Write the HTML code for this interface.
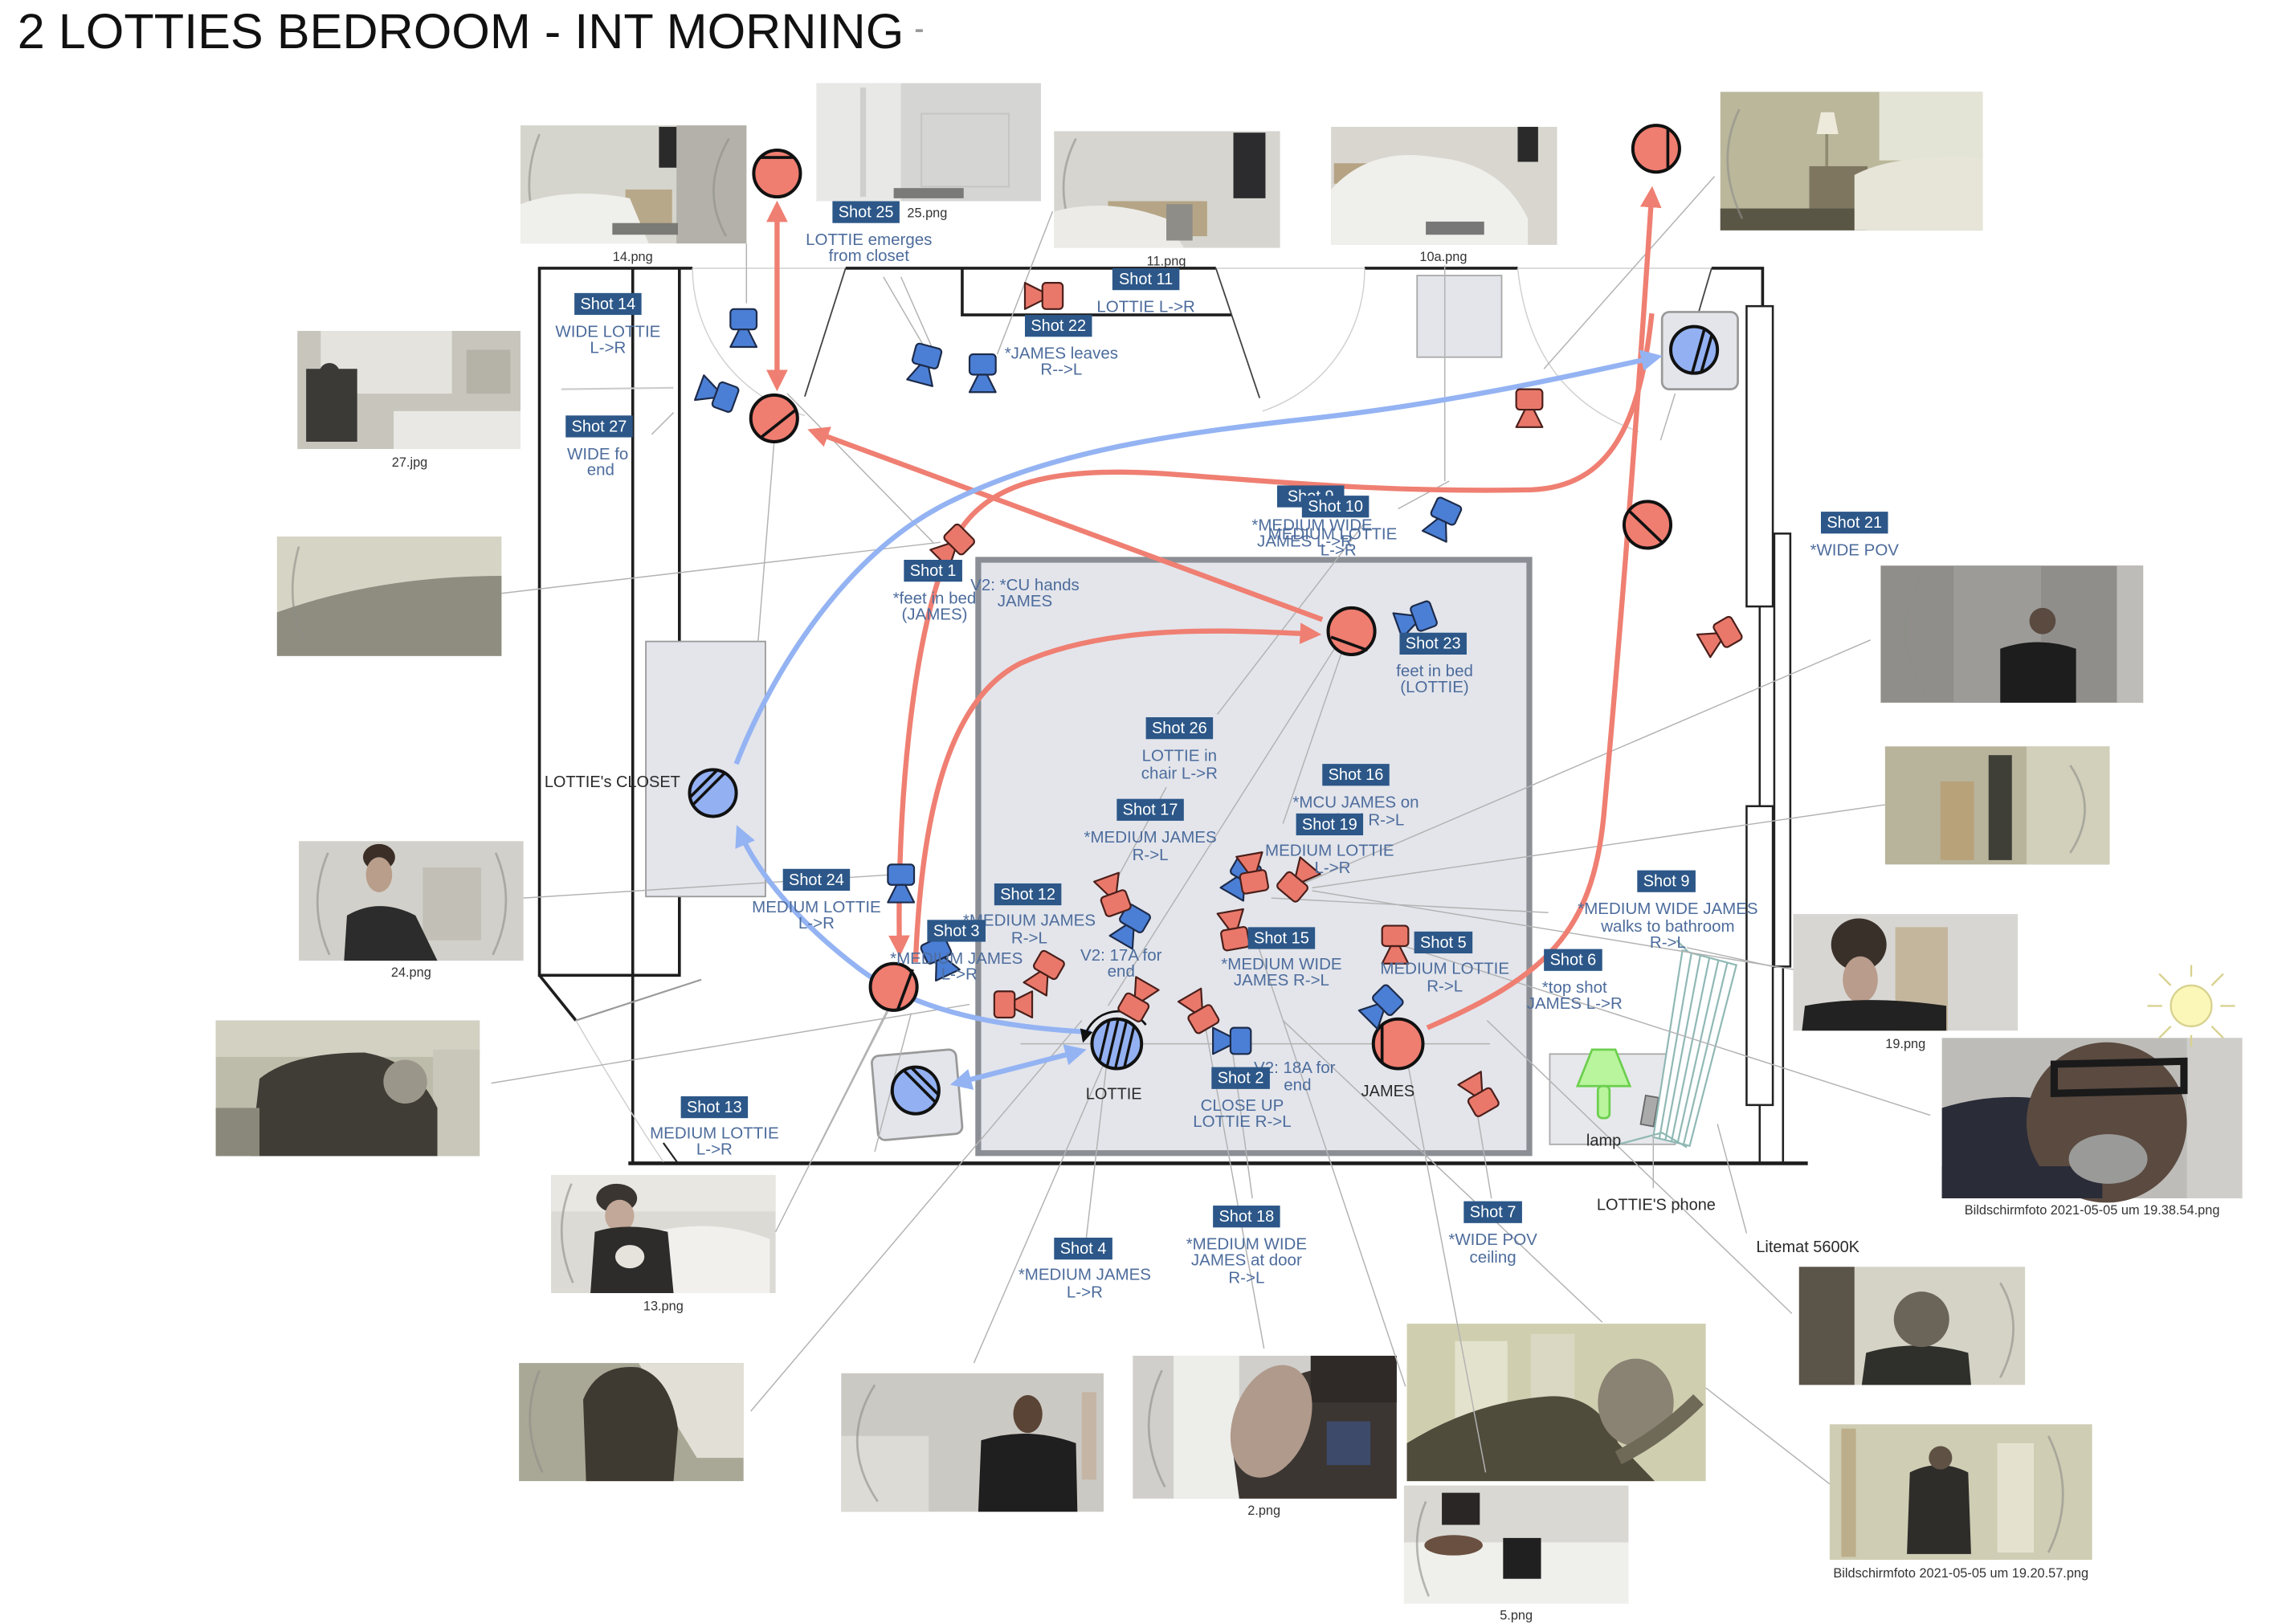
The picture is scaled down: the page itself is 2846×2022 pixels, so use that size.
<!DOCTYPE html>
<html><head><meta charset="utf-8"><style>
html,body{margin:0;padding:0;background:#fff;}
svg{display:block;}
text{font-family:"Liberation Sans",Arial,sans-serif;}
.sb{fill:#2c5788;}
.st{fill:#fff;font-size:11px;text-anchor:middle;}
.d{fill:#4d6c9c;font-size:11.3px;text-anchor:middle;}
.k{fill:#2a2a2a;font-size:11px;text-anchor:middle;}
.cap{fill:#333;font-size:9px;text-anchor:middle;}
.w{stroke:#1e1e1e;stroke-width:2;fill:none;}
.g{stroke:#b2b2b2;stroke-width:0.8;fill:none;}
.lg{stroke:#d0d0d0;stroke-width:0.8;fill:none;}
.ch{stroke:#111;stroke-width:2;}
.arc{fill:none;stroke:#8e8e88;stroke-width:1.5;opacity:0.6;}
</style></head><body>
<svg width="2846" height="2022" viewBox="0 0 1568 1114" xmlns="http://www.w3.org/2000/svg">
<defs>
<marker id="ar" viewBox="0 0 10 10" refX="7" refY="5" markerWidth="4.2" markerHeight="4.2" orient="auto-start-reverse"><path d="M0,0 L10,5 L0,10 z" fill="#ef7f72"/></marker>
<marker id="ab" viewBox="0 0 10 10" refX="7" refY="5" markerWidth="4.2" markerHeight="4.2" orient="auto-start-reverse"><path d="M0,0 L10,5 L0,10 z" fill="#94b3f3"/></marker>
<marker id="ak" viewBox="0 0 10 10" refX="5" refY="5" markerWidth="6" markerHeight="6" orient="auto"><path d="M0,0 L10,5 L0,10 z" fill="#111"/></marker>
<g id="cb"><rect x="-9" y="-14" width="18" height="14" rx="2.5" fill="#4b7fd6" stroke="#1d2b4a" stroke-width="1.2"/><path d="M-3,0 L3,0 L9,12 L-9,12 Z" fill="#4b7fd6" stroke="#1d2b4a" stroke-width="1.2" stroke-linejoin="round"/></g>
<g id="cr"><rect x="-9" y="-14" width="18" height="14" rx="2.5" fill="#e9786b" stroke="#4a1f1a" stroke-width="1.2"/><path d="M-3,0 L3,0 L9,12 L-9,12 Z" fill="#e9786b" stroke="#4a1f1a" stroke-width="1.2" stroke-linejoin="round"/></g>
<clipPath id="lc"><circle cx="766" cy="716" r="17"/></clipPath>
</defs>

<!-- Title -->
<text x="12" y="33" font-size="33.5" fill="#111" textLength="608" lengthAdjust="spacingAndGlyphs">2 LOTTIES BEDROOM - INT MORNING</text>
<rect x="628" y="20" width="5" height="2" fill="#999"/>

<!-- PHOTOS -->
<!-- 14.png -->
<g>
<rect x="357" y="86" width="155" height="81" fill="#d6d5cd"/>
<rect x="464" y="86" width="48" height="81" fill="#b3b1aa"/>
<path d="M370,92 Q355,130 372,165" class="arc"/>
<path d="M500,95 Q480,130 498,162" class="arc"/>
<rect x="429" y="130" width="32" height="30" fill="#b8a88a"/>
<path d="M357,167 L357,140 Q390,128 432,136 L445,167 Z" fill="#efefeb"/>
<rect x="452" y="87" width="12" height="28" fill="#2a2a2a"/>
<rect x="420" y="153" width="45" height="8" fill="#7a7a76"/>
</g>
<text x="434" y="179" class="cap">14.png</text>

<!-- 25.png -->
<g>
<rect x="560" y="57" width="154" height="81" fill="#d5d5d3"/>
<rect x="560" y="57" width="58" height="81" fill="#e8e8e6"/>
<rect x="590" y="60" width="4" height="75" fill="#cfcfcd"/>
<rect x="632" y="78" width="60" height="50" fill="none" stroke="#c6c6c4" stroke-width="1.2"/>
<rect x="613" y="129" width="48" height="7" fill="#7a7a78"/>
</g>

<!-- 11.png -->
<g>
<rect x="723" y="90" width="155" height="80" fill="#d6d5cf"/>
<path d="M738,95 Q720,130 740,168" class="arc"/>
<rect x="760" y="138" width="68" height="24" fill="#b5a586"/>
<path d="M723,170 L723,145 Q760,135 800,150 L812,170 Z" fill="#ecebe7"/>
<rect x="846" y="91" width="22" height="45" fill="#2c2c2e"/>
<rect x="800" y="140" width="18" height="25" fill="#8e8d88"/>
</g>
<text x="800" y="182" class="cap">11.png</text>

<!-- 10a.png -->
<g>
<rect x="913" y="87" width="155" height="81" fill="#d8d6cf"/>
<rect x="915" y="112" width="60" height="14" fill="#b5a383"/>
<path d="M913,168 L913,130 Q940,100 985,108 Q1030,112 1048,150 L1048,168 Z" fill="#efefeb"/>
<rect x="1041" y="87" width="14" height="24" fill="#2a2a2a"/>
<rect x="978" y="152" width="40" height="9" fill="#777"/>
</g>
<text x="990" y="179" class="cap">10a.png</text>

<!-- top right -->
<g>
<rect x="1180" y="63" width="180" height="95" fill="#bab79b"/>
<rect x="1289" y="63" width="71" height="47" fill="#e4e4d6"/>
<path d="M1249,77 L1258,77 L1261,92 L1246,92 Z" fill="#eeeadb"/>
<rect x="1252" y="92" width="2" height="22" fill="#8f8a70"/>
<rect x="1241" y="114" width="40" height="33" fill="#7f7660"/>
<rect x="1180" y="143" width="100" height="15" fill="#5a5646"/>
<path d="M1272,158 L1272,120 Q1300,105 1360,108 L1360,158 Z" fill="#e6e5d8"/>
<path d="M1193,75 Q1176,110 1195,150" class="arc"/>
</g>

<!-- 27.jpg -->
<g>
<rect x="204" y="227" width="153" height="81" fill="#c7c5bc"/>
<rect x="220" y="227" width="90" height="43" fill="#e4e3dd"/>
<rect x="210" y="253" width="35" height="50" fill="#3b3a37"/>
<circle cx="226" cy="256" r="7" fill="#3b3a37"/>
<rect x="270" y="282" width="87" height="26" fill="#e9e8e4"/>
<rect x="320" y="240" width="30" height="30" fill="#b5b2a8"/>
</g>
<text x="281" y="320" class="cap">27.jpg</text>

<!-- left photo 2 -->
<g>
<rect x="190" y="368" width="154" height="82" fill="#d6d4c4"/>
<path d="M190,450 L190,420 Q260,395 344,395 L344,450 Z" fill="#8e8d80"/>
<path d="M205,375 Q195,410 208,440" class="arc"/>
</g>

<!-- 24.png -->
<g>
<rect x="205" y="577" width="154" height="82" fill="#d2d0ca"/>
<path d="M225,585 Q210,620 226,655" class="arc"/>
<path d="M340,585 Q355,620 338,655" class="arc"/>
<rect x="290" y="595" width="40" height="50" fill="#c2bfb6"/>
<path d="M236,659 L238,628 Q260,615 285,628 L300,659 Z" fill="#2c2c2c"/>
<ellipse cx="260" cy="588" rx="11" ry="9" fill="#3a2e26"/>
<ellipse cx="260" cy="600" rx="9" ry="12" fill="#b89e8b"/>
</g>
<text x="282" y="670" class="cap">24.png</text>

<!-- left photo 4 -->
<g>
<rect x="148" y="700" width="181" height="93" fill="#bdbcab"/>
<rect x="148" y="700" width="181" height="25" fill="#d2d1c2"/>
<rect x="297" y="720" width="32" height="73" fill="#c8c7ba"/>
<path d="M172,793 L178,740 Q200,722 250,722 Q285,728 300,760 L300,793 Z" fill="#3f3d35"/>
<circle cx="278" cy="742" r="15" fill="#9a968a"/>
<rect x="148" y="760" width="30" height="33" fill="#8a887a"/>
</g>

<!-- 13.png -->
<g>
<rect x="378" y="806" width="154" height="81" fill="#dcdad5"/>
<rect x="378" y="806" width="154" height="25" fill="#e8e7e2"/>
<path d="M445,887 L448,845 Q490,835 528,850 L528,887 Z" fill="#f1f0ec"/>
<ellipse cx="423" cy="822" rx="14" ry="10" fill="#3a3530"/>
<ellipse cx="425" cy="834" rx="10" ry="11" fill="#c2a898"/>
<path d="M405,887 L408,845 Q430,838 458,845 L462,887 Z" fill="#2e2c2a"/>
<ellipse cx="432" cy="862" rx="10" ry="8" fill="#e6e2dc"/>
<path d="M392,812 Q378,845 393,880" class="arc"/>
</g>
<text x="455" y="899" class="cap">13.png</text>

<!-- bottom-left -->
<g>
<rect x="356" y="935" width="154" height="81" fill="#a9a796"/>
<path d="M438,935 L510,935 L510,1000 L478,1000 Z" fill="#e2e0d6"/>
<path d="M402,1016 L400,960 Q410,935 438,938 Q460,945 465,980 L462,1016 Z" fill="#3e3a31"/>
<path d="M370,940 Q356,975 372,1010" class="arc"/>
</g>

<!-- bottom photo -->
<g>
<rect x="577" y="942" width="180" height="95" fill="#cbc9c3"/>
<rect x="577" y="985" width="60" height="52" fill="#dcdbd6"/>
<path d="M600,950 Q575,990 602,1030" class="arc"/>
<rect x="742" y="955" width="10" height="60" fill="#c4b5a4"/>
<path d="M671,1037 L673,988 Q705,978 738,990 L739,1037 Z" fill="#1f1f1f"/>
<ellipse cx="705" cy="970" rx="10" ry="13" fill="#5a4436"/>
</g>

<!-- 2.png -->
<g>
<rect x="777" y="930" width="180" height="98" fill="#d0cfcb"/>
<rect x="805" y="930" width="45" height="98" fill="#ededea"/>
<path d="M797,940 Q778,980 799,1020" class="arc"/>
<path d="M850,1028 L845,990 Q860,950 900,940 L958,935 L958,1028 Z" fill="#3b3632"/>
<rect x="899" y="930" width="59" height="32" fill="#2f2a27"/>
<ellipse cx="872" cy="975" rx="26" ry="40" fill="#b09a8c" transform="rotate(20 872 975)"/>
<rect x="910" y="975" width="30" height="30" fill="#3e4a6a"/>
</g>
<text x="867" y="1039" class="cap">2.png</text>

<!-- big photo -->
<g>
<rect x="965" y="908" width="205" height="108" fill="#cfcfb0"/>
<rect x="998" y="920" width="36" height="75" fill="#e3e2cc"/>
<rect x="1050" y="915" width="30" height="50" fill="#dad8c2"/>
<path d="M965,1016 L965,990 Q1010,962 1060,958 Q1095,955 1110,990 L1135,1016 Z" fill="#4f4c3c"/>
<ellipse cx="1122" cy="962" rx="26" ry="30" fill="#8a8272"/>
<path d="M1110,1000 Q1140,985 1165,960" stroke="#6f6a58" stroke-width="10" fill="none"/>
</g>

<!-- 5.png -->
<g>
<rect x="963" y="1019" width="154" height="81" fill="#d9d8d3"/>
<rect x="963" y="1058" width="154" height="42" fill="#efefec"/>
<rect x="989" y="1024" width="26" height="22" fill="#2a2626"/>
<ellipse cx="997" cy="1060" rx="20" ry="7" fill="#6a5040"/>
<rect x="1031" y="1055" width="26" height="28" fill="#202020"/>
<path d="M978,1030 Q965,1060 980,1095" class="arc"/>
</g>
<text x="1040" y="1111" class="cap">5.png</text>

<!-- right-bottom -->
<g>
<rect x="1234" y="869" width="155" height="81" fill="#d5d3c5"/>
<rect x="1234" y="869" width="38" height="81" fill="#5a5548"/>
<path d="M1277,950 L1280,928 Q1315,918 1350,928 L1352,950 Z" fill="#2f2f2c"/>
<ellipse cx="1318" cy="905" rx="19" ry="19" fill="#6b6458"/>
<path d="M1372,880 Q1390,910 1372,945" class="arc"/>
</g>

<!-- Bildschirmfoto 19.20.57 -->
<g>
<rect x="1255" y="977" width="180" height="93" fill="#cfcdb3"/>
<rect x="1263" y="980" width="10" height="88" fill="#bcae8a"/>
<rect x="1370" y="990" width="25" height="75" fill="#e4e2cf"/>
<path d="M1308,1066 L1310,1010 Q1330,1000 1350,1010 L1352,1066 Z" fill="#2e2d2a"/>
<circle cx="1331" cy="1000" r="8" fill="#5f5245"/>
<path d="M1405,985 Q1425,1025 1405,1065" class="arc"/>
</g>
<text x="1345" y="1082" class="cap" font-size="8.5">Bildschirmfoto 2021-05-05 um 19.20.57.png</text>

<!-- Shot 21 photo -->
<g>
<rect x="1290" y="388" width="180" height="94" fill="#8f8e8a"/>
<rect x="1340" y="388" width="60" height="94" fill="#9c9b97"/>
<rect x="1452" y="388" width="18" height="94" fill="#bdbcb8"/>
<path d="M1318,395 Q1295,435 1320,475" class="arc"/>
<path d="M1372,482 L1372,445 Q1398,436 1424,445 L1424,482 Z" fill="#1d1d1d"/>
<circle cx="1401" cy="426" r="9" fill="#5a4a40"/>
</g>

<!-- photo 2 right -->
<g>
<rect x="1293" y="512" width="154" height="81" fill="#b8b49c"/>
<rect x="1390" y="512" width="57" height="81" fill="#d2cfba"/>
<rect x="1331" y="536" width="23" height="54" fill="#b8a27a"/>
<rect x="1364" y="518" width="16" height="72" fill="#3f3f37"/>
<path d="M1420,525 Q1440,555 1420,585" class="arc"/>
</g>

<!-- 19.png -->
<g>
<rect x="1230" y="627" width="154" height="80" fill="#d8d6d2"/>
<rect x="1300" y="636" width="36" height="71" fill="#c3b69c"/>
<ellipse cx="1275" cy="648" rx="19" ry="18" fill="#3a302a"/>
<ellipse cx="1276" cy="672" rx="12" ry="16" fill="#b99c8c"/>
<path d="M1236,707 L1238,690 Q1280,682 1335,690 L1335,707 Z" fill="#222"/>
</g>
<text x="1307" y="719" class="cap">19.png</text>

<!-- Bildschirmfoto 19.38.54 -->
<g>
<rect x="1332" y="712" width="206" height="110" fill="#bdbcb8"/>
<rect x="1500" y="712" width="38" height="110" fill="#cfcecb"/>
<path d="M1332,822 L1332,760 Q1380,745 1430,760 L1440,822 Z" fill="#2a2c38"/>
<ellipse cx="1445" cy="770" rx="55" ry="55" fill="#5a4a40"/>
<rect x="1332" y="800" width="110" height="22" fill="#2a2c38"/>
<path d="M1409,730 L1498,728 L1498,748 L1409,750 Z" fill="none" stroke="#1a1a1a" stroke-width="5"/>
<ellipse cx="1446" cy="795" rx="27" ry="17" fill="#9a9a98"/>
</g>
<text x="1435" y="833" class="cap" font-size="8.5">Bildschirmfoto 2021-05-05 um 19.38.54.png</text>

<!-- Sun -->
<g stroke="#d8d290" stroke-width="1.3">
<line x1="1503" y1="670" x2="1503" y2="662"/><line x1="1503" y1="710" x2="1503" y2="718"/>
<line x1="1483" y1="690" x2="1473" y2="690"/><line x1="1523" y1="690" x2="1533" y2="690"/>
<line x1="1489" y1="676" x2="1481" y2="668"/><line x1="1517" y1="676" x2="1525" y2="668"/>
<line x1="1489" y1="704" x2="1481" y2="712"/><line x1="1517" y1="704" x2="1525" y2="712"/>
<circle cx="1503" cy="690" r="14" fill="#faf7b8"/>
</g>

<!-- FLOOR PLAN -->
<line x1="475" y1="184" x2="580" y2="184" class="lg"/>
<line x1="834" y1="184" x2="936" y2="184" class="lg"/>
<line x1="1041" y1="184" x2="1174" y2="184" class="lg"/>
<path d="M369,184 L475,184 M580,184 L834,184 M936,184 L1041,184 M1174,184 L1209,184 L1209,212" class="w"/>
<path d="M660,184 L660,216 L845,216" class="w"/>
<path d="M370,184 L370,669 L466,669 L466,184 M434,184 L434,799" class="w"/>
<path d="M370,669 L395,700" class="w"/>
<line x1="395" y1="700" x2="481" y2="672" stroke="#999" stroke-width="1.2"/>
<line x1="385" y1="267" x2="462" y2="266" stroke="#ccc" stroke-width="1.2"/>
<line x1="431" y1="798" x2="1240" y2="798" stroke="#1e1e1e" stroke-width="2.5"/>
<line x1="455" y1="784" x2="465" y2="798" stroke="#222" stroke-width="1.2"/>
<line x1="580" y1="184" x2="552" y2="272" stroke="#444" stroke-width="1"/>
<path d="M475,184 A105,105 0 0 0 552,285" class="lg"/>
<line x1="834" y1="184" x2="864" y2="273" stroke="#444" stroke-width="1"/>
<path d="M936,184 A102,102 0 0 1 866,282" class="lg"/>
<line x1="1174" y1="184" x2="1164" y2="218" stroke="#444" stroke-width="1"/>
<path d="M1041,184 Q1050,270 1124,296" class="lg"/>
<path d="M395,700 Q430,760 455,797" class="lg"/>
<g fill="#fff" stroke="#222" stroke-width="1.4">
<rect x="1198" y="210" width="18" height="206"/>
<rect x="1217" y="366" width="11" height="297"/>
<rect x="1198" y="553" width="18" height="205"/>
</g>
<path d="M1207,416 L1207,553 M1207,758 L1207,798 M1223,663 L1223,798" stroke="#222" stroke-width="1.4" fill="none"/>

<!-- furniture -->
<rect x="443" y="440" width="82" height="175" fill="#e3e5eb" stroke="#9a9a9a" stroke-width="1"/>
<rect x="671" y="384" width="378" height="407" fill="#e3e5eb" stroke="#8b8f95" stroke-width="4"/>
<rect x="972" y="189" width="58" height="56" fill="#e3e5eb" stroke="#aaa" stroke-width="1"/>
<rect x="1140" y="214" width="52" height="53" rx="5" fill="#e3e5eb" stroke="#999" stroke-width="1.5"/>
<rect x="600" y="722" width="58" height="58" rx="5" fill="#e3e5eb" stroke="#999" stroke-width="1.5" transform="rotate(-5 629 751)"/>
<rect x="1063" y="723" width="86" height="62" fill="#e7e8ec" stroke="#aaa" stroke-width="1"/>
<path d="M1092,720 L1108,720 L1118,745 L1082,745 Z" fill="#b9f59d" stroke="#6ccf4f" stroke-width="1.5"/>
<rect x="1096" y="745" width="8" height="22" rx="3" fill="#b9f59d" stroke="#6ccf4f" stroke-width="1.5"/>
<rect x="1127" y="752" width="9" height="20" fill="#aaa" stroke="#666" stroke-width="1" transform="rotate(10 1131 762)"/>
<g stroke="#8fb8b4" stroke-width="1.2" fill="none">
<polygon points="1154,652 1191,662 1159,786 1134,780" fill="#fff"/>
<line x1="1160.2" y1="653.7" x2="1138.2" y2="781"/>
<line x1="1166.3" y1="655.3" x2="1142.3" y2="782"/>
<line x1="1172.5" y1="657" x2="1146.5" y2="783"/>
<line x1="1178.7" y1="658.7" x2="1150.7" y2="784"/>
<line x1="1184.8" y1="660.3" x2="1154.8" y2="785"/>
<path d="M1110,785 L1140,777 L1157,787"/>
<path d="M1150,645 L1158,653"/>
</g>

<!-- GRAY CONNECTORS -->
<g class="g">
<line x1="512" y1="167" x2="512" y2="208"/>
<line x1="606" y1="190" x2="634" y2="238"/>
<line x1="618" y1="190" x2="640" y2="240"/>
<line x1="722" y1="145" x2="684" y2="243"/>
<line x1="462" y1="283" x2="447" y2="298"/>
<line x1="344" y1="407" x2="645" y2="372"/>
<line x1="359" y1="616" x2="612" y2="600"/>
<line x1="337" y1="743" x2="665" y2="689"/>
<line x1="532" y1="845" x2="610" y2="690"/>
<line x1="515" y1="968" x2="742" y2="700"/>
<line x1="668" y1="935" x2="770" y2="700"/>
<line x1="745" y1="850" x2="760" y2="722"/>
<line x1="859" y1="822" x2="845" y2="718"/>
<line x1="867" y1="925" x2="826" y2="700"/>
<line x1="964" y1="951" x2="860" y2="640"/>
<line x1="1019" y1="1010" x2="960" y2="700"/>
<line x1="1099" y1="907" x2="880" y2="700"/>
<line x1="1023" y1="822" x2="1013" y2="762"/>
<line x1="1229" y1="901" x2="1020" y2="700"/>
<line x1="1170" y1="952" x2="1255" y2="1018"/>
<line x1="1134" y1="815" x2="1134" y2="778"/>
<line x1="1198" y1="846" x2="1178" y2="771"/>
<line x1="1283" y1="439" x2="880" y2="612"/>
<line x1="1293" y1="552" x2="900" y2="609"/>
<line x1="1230" y1="665" x2="900" y2="611"/>
<line x1="1324" y1="765" x2="960" y2="648"/>
<line x1="1062" y1="626" x2="872" y2="616"/>
<line x1="1157" y1="650" x2="1216" y2="663"/>
<line x1="1176" y1="121" x2="1059" y2="253"/>
<line x1="994" y1="330" x2="959" y2="349"/>
<line x1="991" y1="182" x2="991" y2="330"/>
<line x1="1149" y1="270" x2="1139" y2="302"/>
<line x1="928" y1="425" x2="880" y2="565"/>
<line x1="928" y1="425" x2="760" y2="690"/>
<line x1="935" y1="360" x2="835" y2="490"/>
<line x1="700" y1="716" x2="1022" y2="716"/>
<line x1="800" y1="540" x2="765" y2="605"/>
<line x1="640" y1="372" x2="540" y2="270"/>
<line x1="531" y1="303" x2="520" y2="440"/>
<line x1="610" y1="692" x2="560" y2="790"/>
<line x1="625" y1="695" x2="600" y2="790"/>
</g>

<!-- ARROWS -->
<g fill="none" stroke="#ef7f72" stroke-width="3.5">
<path d="M533,142 L533,264" marker-start="url(#ar)" marker-end="url(#ar)"/>
<path d="M907,425 L558,296" marker-end="url(#ar)"/>
<path d="M979,705 C1060,670 1092,640 1100,560 C1110,450 1122,300 1133,132" marker-end="url(#ar)"/>
<path d="M1133,215 C1125,290 1105,334 1050,336 C950,338 870,330 800,325 C720,320 670,330 650,380 C625,440 615,560 617,652" marker-end="url(#ar)"/>
<path d="M628,660 C632,560 650,480 700,455 C760,428 840,432 902,435" marker-end="url(#ar)"/>
</g>
<g fill="none" stroke="#94b3f3" stroke-width="3.5">
<path d="M505,524 C530,460 580,380 650,345 C720,310 800,298 900,287 C1000,276 1090,255 1136,245" marker-end="url(#ab)"/>
<path d="M748,708 C690,705 630,695 590,665 C550,635 520,600 507,570" marker-end="url(#ab)"/>
<path d="M656,743 L741,721" marker-start="url(#ab)" marker-end="url(#ab)"/>
</g>

<!-- ACTORS -->
<g stroke="#111" stroke-width="2.2">
<circle cx="533" cy="119" r="16" fill="#ef7d70"/>
<circle cx="531" cy="287" r="16" fill="#ef7d70"/>
<circle cx="1136" cy="102" r="16" fill="#ef7d70"/>
<circle cx="1130" cy="360" r="16" fill="#ef7d70"/>
<circle cx="927" cy="433" r="16" fill="#ef7d70"/>
<circle cx="613" cy="677" r="16" fill="#ef7d70"/>
<circle cx="959" cy="716" r="17" fill="#ef7d70"/>
<circle cx="1162" cy="240" r="16" fill="#93b1f2"/>
<circle cx="489" cy="544" r="16" fill="#93b1f2"/>
<circle cx="628" cy="748" r="16" fill="#93b1f2"/>
<circle cx="766" cy="716" r="17" fill="#93b1f2"/>
</g>
<g class="ch">
<line x1="521.4" y1="108" x2="544.6" y2="108"/>
<line x1="522" y1="300" x2="546" y2="281"/>
<line x1="1144" y1="88" x2="1144" y2="116"/>
<line x1="1117" y1="350" x2="1141" y2="373"/>
<line x1="913" y1="437" x2="938" y2="446"/>
<line x1="626" y1="665" x2="616" y2="692"/>
<line x1="948" y1="703" x2="948" y2="729"/>
<line x1="1169.1" y1="225.7" x2="1160.7" y2="255.9"/>
<line x1="1174.2" y1="229.7" x2="1167" y2="255.1"/>
<line x1="497.1" y1="530.2" x2="475.2" y2="552.1"/>
<line x1="491.9" y1="528.3" x2="473.3" y2="546.9"/>
<line x1="619.9" y1="734.2" x2="641.8" y2="756.2"/>
<line x1="625.1" y1="732.3" x2="643.7" y2="750.9"/>
</g>
<g clip-path="url(#lc)" stroke="#111" stroke-width="1.8">
<line x1="761" y1="699" x2="753" y2="733"/>
<line x1="767" y1="699" x2="759" y2="733"/>
<line x1="773" y1="699" x2="765" y2="733"/>
<line x1="779" y1="699" x2="771" y2="733"/>
</g>
<path d="M786,703 A24,24 0 0 0 744,711" fill="none" stroke="#111" stroke-width="1.5" marker-end="url(#ak)"/>

<!-- CAMERAS -->
<use href="#cb" transform="translate(510,226) rotate(0)"/>
<use href="#cb" transform="translate(491,270) rotate(110)"/>
<use href="#cb" transform="translate(634,251) rotate(15)"/>
<use href="#cb" transform="translate(674,257) rotate(0)"/>
<use href="#cb" transform="translate(989,357) rotate(25)"/>
<use href="#cb" transform="translate(970,425) rotate(70)"/>
<use href="#cb" transform="translate(618,607) rotate(0)"/>
<use href="#cb" transform="translate(645,658) rotate(-25)"/>
<use href="#cb" transform="translate(775,636) rotate(30)"/>
<use href="#cb" transform="translate(851,603) rotate(30)"/>
<use href="#cb" transform="translate(844,714) rotate(90)"/>
<use href="#cb" transform="translate(947,691) rotate(45)"/>
<use href="#cr" transform="translate(715,203) rotate(90)"/>
<use href="#cr" transform="translate(1049,281) rotate(0)"/>
<use href="#cr" transform="translate(653,375) rotate(45)"/>
<use href="#cr" transform="translate(1179,437) rotate(60)"/>
<use href="#cr" transform="translate(763,613) rotate(160)"/>
<use href="#cr" transform="translate(716,668) rotate(30)"/>
<use href="#cr" transform="translate(696,689) rotate(-90)"/>
<use href="#cr" transform="translate(781,685) rotate(-150)"/>
<use href="#cr" transform="translate(822,693) rotate(150)"/>
<use href="#cr" transform="translate(846,637) rotate(170)"/>
<use href="#cr" transform="translate(859,598) rotate(170)"/>
<use href="#cr" transform="translate(891,603) rotate(-140)"/>
<use href="#cr" transform="translate(957,649) rotate(0)"/>
<use href="#cr" transform="translate(1014,750) rotate(150)"/>

<!-- LABELS -->
<g>
<rect x="571" y="138" width="46" height="15" class="sb"/><text x="594" y="149" class="st">Shot 25</text>
<text x="636" y="149" class="cap">25.png</text>
<text x="596" y="168" class="d">LOTTIE emerges</text><text x="596" y="179" class="d">from closet</text>

<rect x="763" y="184" width="46" height="15" class="sb"/><text x="786" y="195" class="st">Shot 11</text>
<text x="786" y="214" class="d">LOTTIE L-&gt;R</text>

<rect x="703" y="216" width="46" height="15" class="sb"/><text x="726" y="227" class="st">Shot 22</text>
<text x="728" y="246" class="d">*JAMES leaves</text><text x="728" y="257" class="d">R--&gt;L</text>

<rect x="394" y="201" width="46" height="15" class="sb"/><text x="417" y="212" class="st">Shot 14</text>
<text x="417" y="231" class="d">WIDE LOTTIE</text><text x="417" y="242" class="d">L-&gt;R</text>

<rect x="388" y="285" width="46" height="15" class="sb"/><text x="411" y="296" class="st">Shot 27</text>
<text x="410" y="315" class="d">WIDE fo</text><text x="412" y="326" class="d">end</text>

<rect x="876" y="333" width="46" height="15" class="sb"/><text x="899" y="344" class="st">Shot 9</text>
<text x="900" y="364" class="d">*MEDIUM WIDE</text><text x="895" y="375" class="d">JAMES L-&gt;R</text>
<rect x="893" y="340" width="46" height="15" class="sb"/><text x="916" y="351" class="st">Shot 10</text>
<text x="914" y="370" class="d">MEDIUM LOTTIE</text><text x="918" y="381" class="d">L-&gt;R</text>

<rect x="1249" y="351" width="46" height="15" class="sb"/><text x="1272" y="362" class="st">Shot 21</text>
<text x="1272" y="381" class="d">*WIDE POV</text>

<rect x="620" y="384" width="40" height="15" class="sb"/><text x="640" y="395" class="st">Shot 1</text>
<text x="641" y="414" class="d">*feet in bed</text><text x="641" y="425" class="d">(JAMES)</text>
<text x="703" y="405" class="d">V2: *CU hands</text><text x="703" y="416" class="d">JAMES</text>

<rect x="960" y="434" width="46" height="15" class="sb"/><text x="983" y="445" class="st">Shot 23</text>
<text x="984" y="464" class="d">feet in bed</text><text x="984" y="475" class="d">(LOTTIE)</text>

<rect x="786" y="492" width="46" height="15" class="sb"/><text x="809" y="503" class="st">Shot 26</text>
<text x="809" y="522" class="d">LOTTIE in</text><text x="809" y="534" class="d">chair L-&gt;R</text>

<rect x="907" y="524" width="46" height="15" class="sb"/><text x="930" y="535" class="st">Shot 16</text>
<text x="930" y="554" class="d">*MCU JAMES on</text><text x="932" y="566" class="d">on bed R-&gt;L</text>

<rect x="766" y="548" width="46" height="15" class="sb"/><text x="789" y="559" class="st">Shot 17</text>
<text x="789" y="578" class="d">*MEDIUM JAMES</text><text x="789" y="590" class="d">R-&gt;L</text>

<rect x="889" y="558" width="46" height="15" class="sb"/><text x="912" y="569" class="st">Shot 19</text>
<text x="912" y="587" class="d">MEDIUM LOTTIE</text><text x="914" y="599" class="d">L-&gt;R</text>

<rect x="537" y="596" width="46" height="15" class="sb"/><text x="560" y="607" class="st">Shot 24</text>
<text x="560" y="626" class="d">MEDIUM LOTTIE</text><text x="560" y="637" class="d">L-&gt;R</text>

<rect x="682" y="606" width="46" height="15" class="sb"/><text x="705" y="617" class="st">Shot 12</text>
<text x="706" y="635" class="d">*MEDIUM JAMES</text><text x="706" y="647" class="d">R-&gt;L</text>

<rect x="636" y="631" width="40" height="15" class="sb"/><text x="656" y="642" class="st">Shot 3</text>
<text x="656" y="661" class="d">*MEDIUM JAMES</text><text x="658" y="672" class="d">L-&gt;R</text>

<text x="769" y="659" class="d">V2: 17A for</text><text x="769" y="670" class="d">end</text>

<rect x="856" y="636" width="46" height="15" class="sb"/><text x="879" y="647" class="st">Shot 15</text>
<text x="879" y="665" class="d">*MEDIUM WIDE</text><text x="879" y="676" class="d">JAMES R-&gt;L</text>

<rect x="970" y="639" width="40" height="15" class="sb"/><text x="990" y="650" class="st">Shot 5</text>
<text x="991" y="668" class="d">MEDIUM LOTTIE</text><text x="991" y="680" class="d">R-&gt;L</text>

<rect x="1123" y="597" width="40" height="15" class="sb"/><text x="1143" y="608" class="st">Shot 9</text>
<text x="1144" y="627" class="d">*MEDIUM WIDE JAMES</text><text x="1144" y="639" class="d">walks to bathroom</text><text x="1144" y="650" class="d">R-&gt;L</text>

<rect x="1059" y="651" width="40" height="15" class="sb"/><text x="1079" y="662" class="st">Shot 6</text>
<text x="1080" y="681" class="d">*top shot</text><text x="1080" y="692" class="d">JAMES L-&gt;R</text>

<text x="888" y="736" class="d">V2: 18A for</text><text x="890" y="748" class="d">end</text>
<rect x="831" y="732" width="40" height="15" class="sb"/><text x="851" y="743" class="st">Shot 2</text>
<text x="852" y="762" class="d">CLOSE UP</text><text x="852" y="773" class="d">LOTTIE R-&gt;L</text>

<rect x="467" y="752" width="46" height="15" class="sb"/><text x="490" y="763" class="st">Shot 13</text>
<text x="490" y="781" class="d">MEDIUM LOTTIE</text><text x="490" y="792" class="d">L-&gt;R</text>

<rect x="832" y="827" width="46" height="15" class="sb"/><text x="855" y="838" class="st">Shot 18</text>
<text x="855" y="857" class="d">*MEDIUM WIDE</text><text x="855" y="868" class="d">JAMES at door</text><text x="855" y="880" class="d">R-&gt;L</text>

<rect x="723" y="849" width="40" height="15" class="sb"/><text x="743" y="860" class="st">Shot 4</text>
<text x="744" y="878" class="d">*MEDIUM JAMES</text><text x="744" y="890" class="d">L-&gt;R</text>

<rect x="1004" y="824" width="40" height="15" class="sb"/><text x="1024" y="835" class="st">Shot 7</text>
<text x="1024" y="854" class="d">*WIDE POV</text><text x="1024" y="866" class="d">ceiling</text>

<text x="420" y="540" class="k">LOTTIE's CLOSET</text>
<text x="764" y="754" class="k">LOTTIE</text>
<text x="952" y="752" class="k">JAMES</text>
<text x="1100" y="786" class="k" font-size="10">lamp</text>
<text x="1136" y="830" class="k">LOTTIE'S phone</text>
<text x="1240" y="859" class="k">Litemat 5600K</text>
</g>
</svg>
</body></html>
